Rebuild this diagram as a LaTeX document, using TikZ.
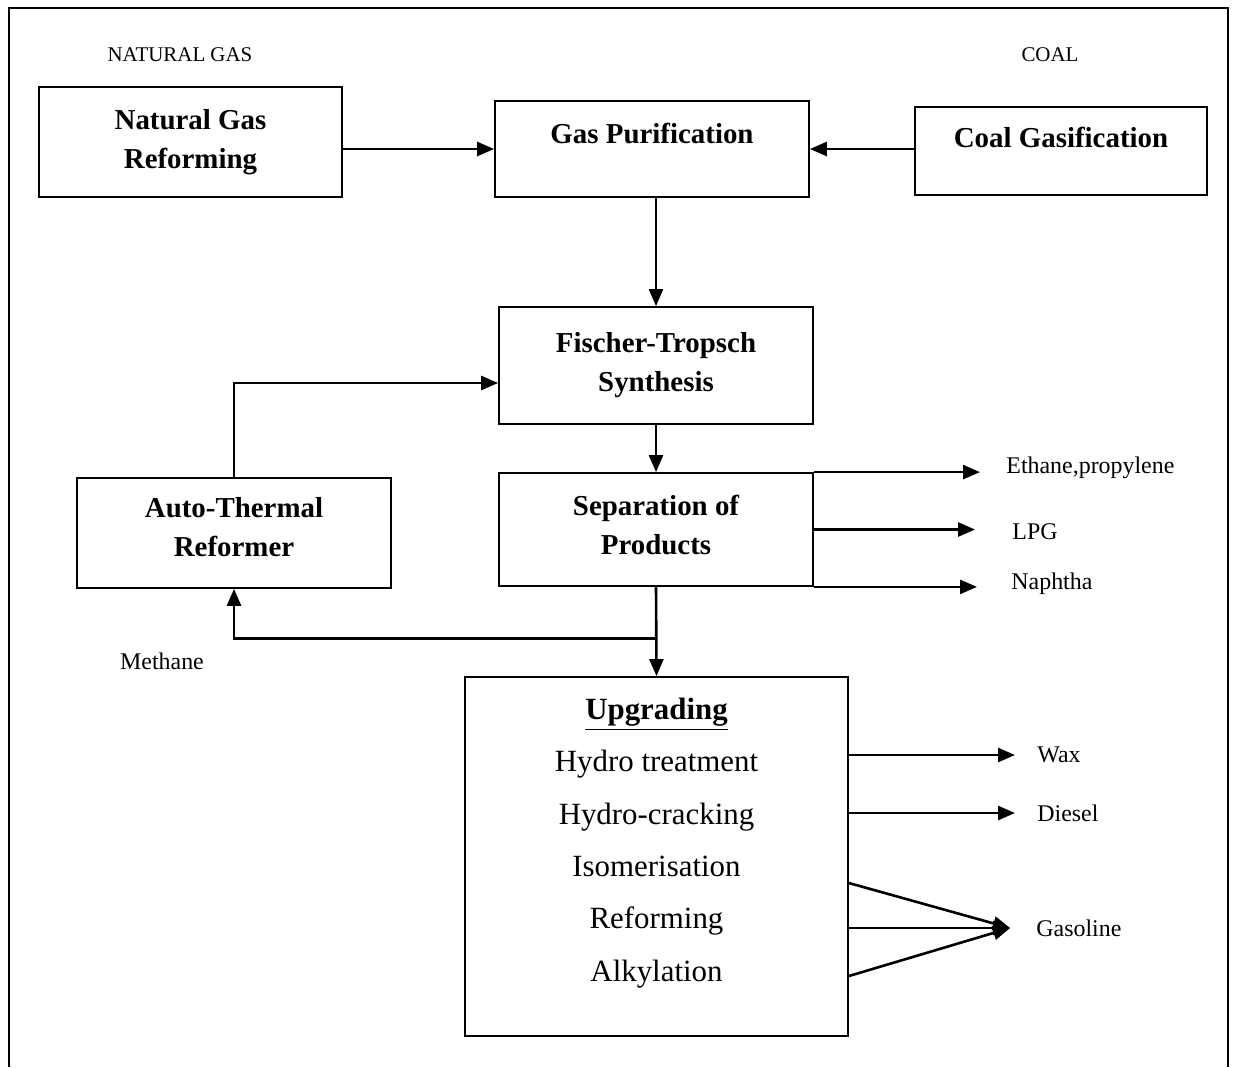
\documentclass[tikz,border=0pt]{standalone}
\usepackage{fontspec}
\setmainfont{Liberation Serif}
\usetikzlibrary{arrows.meta, positioning, calc}

\begin{document}
\begin{tikzpicture}[x=0.5bp, y=-0.5bp,
    >={Triangle[length=8.5bp, width=7bp]},
    box/.style={rectangle, draw, line width=0.9bp, inner sep=2bp, align=center, font=\fontsize{14.5}{19.5}\selectfont\bfseries},
    flow/.style={->, line width=1.3bp},
    source/.style={font=\fontsize{10.5}{12}\selectfont},
    product/.style={anchor=west, inner sep=0pt, font=\fontsize{12}{14}\selectfont}
]
\useasboundingbox (0,0) rectangle (1237,1067);
\draw[line width=1bp] (9,1067) -- (9,8) -- (1228,8) -- (1228,1067);

% === Feedstocks ===
\node[source] (ngtitle) at (180,55) {NATURAL GAS};
\node[source] (coaltitle) at (1050,55) {COAL};

\node[box, minimum width=151.5bp, minimum height=55bp, text depth=3bp] (ngbox) at (190.5,142) {Natural Gas\\Reforming};
\node[box, minimum width=157bp, minimum height=48bp, text depth=16bp] (gpbox) at (652,149) {Gas Purification};
\node[box, minimum width=146bp, minimum height=44bp, text depth=14bp] (cgbox) at (1061,151) {Coal Gasification};

\draw[flow] (ngbox.east |- gpbox.west) -- (gpbox.west);
\draw[flow] (cgbox.west |- gpbox.east) -- (gpbox.east);

% === Synthesis and separation ===
\node[box, minimum width=157bp, minimum height=58.5bp] (ftbox) at (656,365.5) {Fischer-Tropsch\\Synthesis};
\node[box, minimum width=157bp, minimum height=56.5bp, text depth=5bp] (sepbox) at (656,529.5) {Separation of\\Products};
\node[box, minimum width=157bp, minimum height=55bp, text depth=6bp] (atrbox) at (234,533) {Auto-Thermal\\Reformer};

\draw[flow] (ftbox.north |- gpbox.south) -- (ftbox.north);
\draw[flow] (ftbox.south) -- (sepbox.north);
\draw[flow] (atrbox.north) |- ([yshift=-8.75bp]ftbox.west);

\node[product] (ethane) at (1006,468) {Ethane,propylene};
\node[product] (lpg) at (1012,532) {LPG};
\node[product] (naphtha) at (1011,584) {Naphtha};

\draw[flow, shorten >=13bp] (sepbox.north east) -- (sepbox.north east -| ethane.west);
\draw[flow, shorten >=18.5bp] (sepbox.east) -- (sepbox.east -| lpg.west);
\draw[flow, shorten >=17bp] (sepbox.south east) -- (sepbox.south east -| naphtha.west);

% === Upgrading ===
\node[box, minimum width=191.5bp, minimum height=179.5bp, font=\fontsize{15.5}{26.25}\selectfont, text depth=17bp] (upbox) at (656.5,856.5) {\textbf{\underline{Upgrading}}\\Hydro treatment\\Hydro-cracking\\Isomerisation\\Reforming\\Alkylation};

\draw[flow] (sepbox.south) -- (upbox.north);
\coordinate (split) at ($(sepbox.south)!0.58!(upbox.north)$);
\draw[flow] (split) -| (atrbox.south);
\node[product, anchor=center] (methane) at (162,661) {Methane};

\node[product] (wax) at (1037,755) {Wax};
\node[product] (diesel) at (1037,813) {Diesel};
\node[product] (gasoline) at (1036,928) {Gasoline};

\draw[flow, shorten >=11bp] (upbox.east |- wax.west) -- (wax.west);
\draw[flow, shorten >=11bp] (upbox.east |- diesel.west) -- (diesel.west);

\coordinate (gastip) at ([xshift=-13bp]gasoline.west);
\foreach \dy in {-45,0,48}
    \draw[flow] ($(upbox.east |- gastip)+(0,\dy)$) -- (gastip);

\end{tikzpicture}
\end{document}
